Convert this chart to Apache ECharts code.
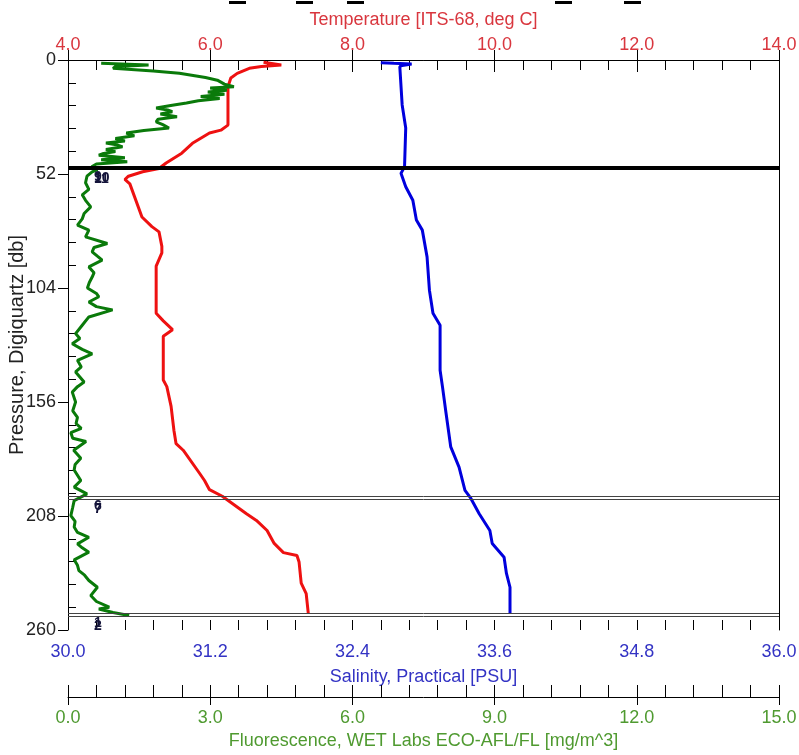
<!DOCTYPE html>
<html>
<head>
<meta charset="utf-8">
<script src="https://cdn.jsdelivr.net/npm/echarts/dist/echarts.min.js"></script>
<style>
  html, body { margin: 0; padding: 0; background: #fff; }
  #chart { width: 799px; height: 755px; }
</style>
</head>
<body>
<div id="chart"></div>
<script>
// temperature profile (red)
var pressureT = [1.0, 2.3, 3.0, 3.8, 6.1, 8.2, 12.2, 29.7, 32, 33.3, 38, 42.5, 47, 49.5, 51, 53, 54.5, 56.5, 71.6, 76, 78.4, 85, 88, 94, 115.5, 119, 123, 126, 146, 149, 158, 169, 175, 178, 188.5, 191.8, 196, 199, 207, 210, 214.6, 220.5, 224.7, 226, 229, 238.6, 243.4, 252.5];
var temperature = [6.75, 7.0, 6.72, 6.55, 6.38, 6.29, 6.25, 6.25, 6.15, 5.99, 5.75, 5.6, 5.38, 5.28, 5.05, 4.85, 4.8, 4.87, 5.04, 5.18, 5.28, 5.32, 5.32, 5.24, 5.24, 5.34, 5.47, 5.34, 5.34, 5.39, 5.45, 5.49, 5.52, 5.62, 5.85, 5.92, 5.99, 6.17, 6.51, 6.65, 6.8, 6.9, 7.03, 7.22, 7.25, 7.28, 7.35, 7.38];

// salinity profile (blue)
var pressureS = [1.2, 1.5, 1.8, 2.5, 3.0, 20.5, 31, 48.7, 51.7, 57.8, 64, 73, 77.6, 89.8, 105, 115.5, 121, 141.5, 149, 161, 176.5, 185.7, 196.3, 200, 207, 214.6, 220.5, 226.8, 234.2, 240.5, 252.5];
var salinity = [32.64, 32.75, 32.9, 32.82, 32.8, 32.82, 32.85, 32.84, 32.81, 32.85, 32.91, 32.94, 32.99, 33.03, 33.05, 33.08, 33.14, 33.14, 33.16, 33.19, 33.23, 33.3, 33.35, 33.4, 33.47, 33.56, 33.58, 33.68, 33.7, 33.73, 33.73];

// fluorescence profile (green)
var pressureF = [1.5, 2.3, 3.0, 3.8, 5.0, 6.0, 8.0, 9.2, 11.0, 12.2, 12.8, 13.8, 14.6, 15.6, 16.6, 17.6, 18.6, 19.6, 20.6, 21.9, 22.8, 23.6, 24.6, 25.9, 27.0, 28.2, 29.5, 31.0, 32.2, 33.3, 34.6, 35.8, 37.0, 37.9, 38.8, 39.6, 40.8, 41.8, 42.6, 43.4, 44.6, 45.5, 46.4, 47.4, 48.7, 50.0, 51.0, 53.0, 56.0, 59.0, 61.5, 64.0, 67.0, 70.0, 72.5, 75.3, 77.6, 80.7, 83.7, 85.5, 87.5, 89.5, 91.3, 94.4, 97.0, 99.0, 101.5, 104.0, 106.5, 108.0, 110.4, 112.5, 114.0, 117.2, 121.0, 124.8, 127.0, 129.4, 132.0, 134.0, 137.0, 140.0, 142.3, 146.9, 149.0, 151.5, 156.0, 160.0, 163.0, 165.8, 168.0, 170.0, 172.5, 174.0, 178.0, 181.7, 184.5, 187.0, 191.8, 194.8, 197.9, 201.0, 204.0, 207.8, 210.5, 213.0, 215.5, 217.7, 220.7, 222.5, 224.5, 228.0, 230.5, 232.9, 235.0, 237.4, 240.5, 244.3, 247.0, 249.6, 250.4, 252.0, 253.4];
var fluorescence = [0.7, 1.7, 1.0, 0.95, 1.8, 2.35, 2.9, 3.15, 3.3, 3.5, 3.0, 3.35, 2.95, 3.3, 2.8, 3.2, 2.75, 2.5, 2.2, 1.86, 2.1, 2.2, 1.95, 2.3, 1.9, 1.86, 2.0, 2.13, 1.6, 1.23, 1.4, 1.0, 1.2, 0.8, 1.05, 1.15, 0.8, 1.0, 0.75, 0.65, 1.2, 0.7, 1.25, 0.6, 0.5, 0.62, 0.51, 0.4, 0.37, 0.44, 0.3, 0.37, 0.48, 0.34, 0.3, 0.2, 0.44, 0.37, 0.83, 0.55, 0.51, 0.62, 0.72, 0.44, 0.55, 0.51, 0.45, 0.41, 0.6, 0.65, 0.44, 0.6, 0.94, 0.44, 0.3, 0.16, 0.25, 0.09, 0.3, 0.51, 0.2, 0.28, 0.16, 0.34, 0.2, 0.09, 0.16, 0.1, 0.2, 0.17, 0.28, 0.06, 0.1, 0.38, 0.12, 0.27, 0.15, 0.13, 0.27, 0.13, 0.4, 0.13, 0.1, 0.06, 0.15, 0.13, 0.2, 0.44, 0.2, 0.3, 0.44, 0.13, 0.2, 0.23, 0.35, 0.44, 0.62, 0.48, 0.6, 0.87, 0.65, 0.95, 1.29];

// bottle fire marks
var bottleNumber = ["1", "2", "6", "7", "9", "10", "11"];
var bottlePressure = [252.3, 253.7, 199.0, 200.4, 48.8, 49.3, 49.8];
var bottleWidth = [1, 1, 1, 1, 2, 2, 2];

var FONT = "Liberation Sans";
var FS = 18;

function pairs(xs, ys) {
  var out = [];
  for (var i = 0; i < xs.length; i++) out.push([xs[i], ys[i]]);
  return out;
}

var bottleLines = [];
bottleNumber.forEach(function (b, i) {
  bottleLines.push({
    yAxis: bottlePressure[i],
    name: b,
    lineStyle: { type: "solid", width: bottleWidth[i], color: bottleWidth[i] > 1 ? "#000" : "#444" }
  });
});

var blackLine = { show: true, lineStyle: { color: "#000", width: 1 } };

// x axis builder: main axis has outer major ticks + labels, overlay has inner ticks
function xPair(pos, offset, min, max, interval, color, name, nameGap, tickOut, tickIn, minorLen, margin) {
  return [
    {
      type: "value", position: pos, offset: offset, min: min, max: max, interval: interval,
      axisLine: blackLine,
      axisTick: { show: true, length: tickOut, lineStyle: { color: "#000" } },
      axisLabel: {
        color: color, fontFamily: FONT, fontSize: FS, margin: margin,
        formatter: function (v) { return v.toFixed(1); }
      },
      splitLine: { show: false },
      name: name, nameLocation: "middle", nameGap: nameGap,
      nameTextStyle: { color: color, fontFamily: FONT, fontSize: FS }
    },
    {
      type: "value", position: pos, offset: offset, min: min, max: max, interval: interval,
      axisLine: { show: false },
      axisTick: { show: true, inside: true, length: tickIn, lineStyle: { color: "#000" } },
      minorTick: { show: true, splitNumber: 5, length: minorLen, lineStyle: { color: "#000" } },
      axisLabel: { show: false },
      splitLine: { show: false }
    }
  ];
}

var xAxes = []
  .concat(xPair("top", 0, 4, 14, 2, "#d9363e", "Temperature [ITS-68, deg C]", 31, 10, 12, 10, 6))
  .concat(xPair("bottom", 0, 30, 36, 1.2, "#3333c4", "Salinity, Practical [PSU]", 38, 9, 10, 10, 13))
  .concat(xPair("bottom", 67, 0, 15, 3, "#4f9a30", "Fluorescence, WET Labs ECO-AFL/FL [mg/m^3]", 35, 8, 12, 12, 12));

var chart = echarts.init(document.getElementById("chart"));
var option = {
  animation: false,
  backgroundColor: "#fff",
  title: {
    // the plot title is cut off at the top edge, only the underscores remain
    text: "{u| }{g| }{u| }{h| }{u| }{k| }{u| }{m| }{u| }",
    left: 229, top: 1, padding: 0,
    textStyle: {
      rich: {
        u: { width: 17, height: 3, backgroundColor: "#000" },
        g: { width: 50, height: 3 },
        h: { width: 34, height: 3 },
        k: { width: 191, height: 3 },
        m: { width: 52, height: 3 }
      }
    }
  },
  grid: { left: 68, right: 20, top: 60, bottom: 125, containLabel: false, outerBoundsMode: "none" },
  xAxis: xAxes,
  yAxis: [
    {
      type: "value", inverse: true, min: 0, max: 260, interval: 52, position: "left",
      axisLine: blackLine,
      axisTick: { show: true, length: 10, lineStyle: { color: "#000" } },
      axisLabel: { color: "#222", fontFamily: FONT, fontSize: FS, margin: 12 },
      splitLine: { show: false },
      name: "Pressure, Digiquartz [db]", nameLocation: "middle", nameGap: 41,
      nameMoveOverlap: false,
      nameTextStyle: { color: "#222", fontFamily: FONT, fontSize: 20 }
    },
    {
      type: "value", inverse: true, min: 0, max: 260, interval: 52, position: "left",
      axisLine: { show: false },
      axisTick: { show: false, inside: true },
      minorTick: { show: true, splitNumber: 5, length: 8, lineStyle: { color: "#000" } },
      axisLabel: { show: false },
      splitLine: { show: false }
    },
    {
      type: "value", inverse: true, min: 0, max: 260, position: "right",
      axisLine: blackLine,
      axisTick: { show: false },
      axisLabel: { show: false },
      splitLine: { show: false }
    }
  ],
  series: [
    {
      name: "Temperature", type: "line", xAxisIndex: 0, yAxisIndex: 0,
      data: pairs(temperature, pressureT),
      showSymbol: false, symbol: "none",
      lineStyle: { color: "#ee1111", width: 3 },
      markLine: {
        silent: true, symbol: ["none", "none"], animation: false,
        lineStyle: { type: "solid" },
        label: {
          show: true, position: "insideStartBottom", formatter: "{b}",
          color: "#14143a", fontFamily: FONT, fontSize: 14, fontWeight: "bold",
          distance: [26, 3]
        },
        data: bottleLines
      }
    },
    {
      name: "Salinity", type: "line", xAxisIndex: 2, yAxisIndex: 0,
      data: pairs(salinity, pressureS),
      showSymbol: false, symbol: "none",
      lineStyle: { color: "#0000dd", width: 3 }
    },
    {
      name: "Fluorescence", type: "line", xAxisIndex: 4, yAxisIndex: 0,
      data: pairs(fluorescence, pressureF),
      showSymbol: false, symbol: "none",
      lineStyle: { color: "#0a7a0a", width: 3 }
    }
  ]
};
chart.setOption(option);
</script>
</body>
</html>
